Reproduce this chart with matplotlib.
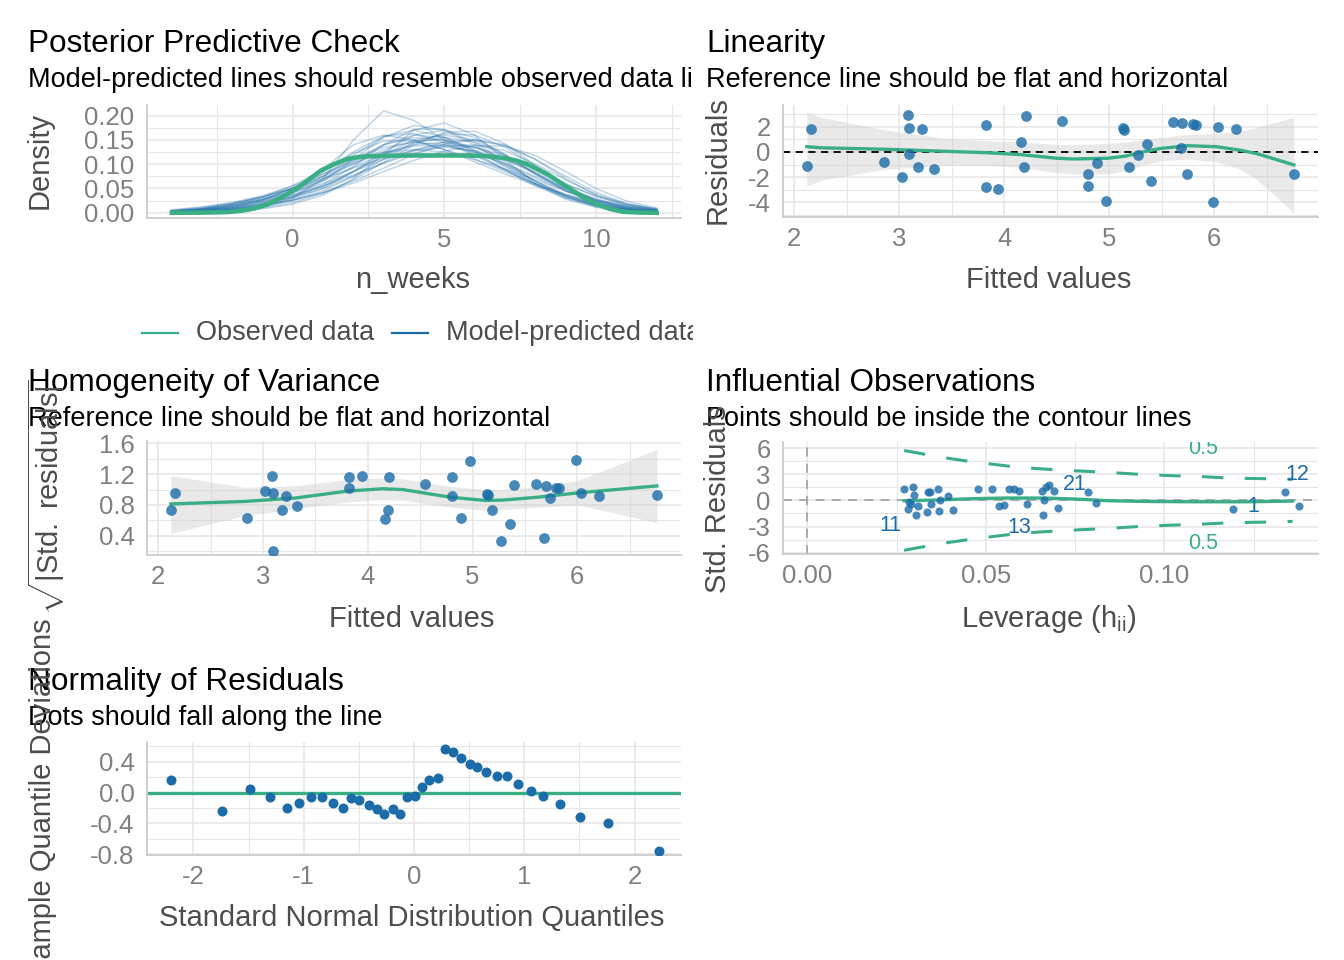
import matplotlib
matplotlib.use("Agg")
import matplotlib.pyplot as plt
from matplotlib.lines import Line2D
from matplotlib.transforms import Bbox, TransformedBbox

# ---- data ------------------------------------------------------------------
# posterior predictive check: density curves on a 1-unit grid of n_weeks
ppc_x = [-4, -3, -2, -1, 0, 1, 2, 3, 4, 5, 6, 7, 8, 9, 10, 11, 12]
ppc_sims = [
    [0.001, 0.002, 0.005, 0.012, 0.030, 0.070, 0.150, 0.210, 0.190, 0.150, 0.120, 0.090, 0.060, 0.035, 0.015, 0.006, 0.002],
    [0.001, 0.003, 0.008, 0.018, 0.035, 0.065, 0.110, 0.155, 0.180, 0.170, 0.140, 0.100, 0.065, 0.035, 0.015, 0.006, 0.002],
    [0.002, 0.005, 0.010, 0.020, 0.035, 0.055, 0.085, 0.120, 0.150, 0.160, 0.150, 0.120, 0.080, 0.045, 0.020, 0.008, 0.003],
    [0.003, 0.007, 0.015, 0.028, 0.045, 0.070, 0.100, 0.130, 0.148, 0.150, 0.135, 0.110, 0.080, 0.050, 0.026, 0.012, 0.005],
    [0.001, 0.002, 0.005, 0.012, 0.025, 0.045, 0.075, 0.110, 0.145, 0.163, 0.160, 0.135, 0.095, 0.055, 0.025, 0.010, 0.004],
    [0.003, 0.008, 0.018, 0.032, 0.050, 0.075, 0.110, 0.140, 0.155, 0.150, 0.128, 0.097, 0.065, 0.038, 0.018, 0.007, 0.002],
    [0.004, 0.009, 0.017, 0.028, 0.042, 0.060, 0.085, 0.110, 0.130, 0.140, 0.135, 0.118, 0.090, 0.060, 0.033, 0.016, 0.007],
    [0.001, 0.002, 0.006, 0.014, 0.028, 0.050, 0.085, 0.125, 0.160, 0.170, 0.155, 0.120, 0.080, 0.045, 0.020, 0.008, 0.002],
    [0.005, 0.011, 0.020, 0.035, 0.055, 0.080, 0.105, 0.125, 0.130, 0.125, 0.110, 0.090, 0.068, 0.045, 0.026, 0.013, 0.006],
    [0.001, 0.003, 0.007, 0.014, 0.026, 0.042, 0.065, 0.092, 0.120, 0.142, 0.150, 0.140, 0.110, 0.070, 0.036, 0.015, 0.005],
    [0.002, 0.006, 0.014, 0.028, 0.050, 0.080, 0.110, 0.135, 0.145, 0.140, 0.125, 0.100, 0.072, 0.045, 0.024, 0.011, 0.004],
    [0.000, 0.001, 0.003, 0.008, 0.018, 0.036, 0.070, 0.120, 0.170, 0.185, 0.160, 0.110, 0.060, 0.028, 0.011, 0.004, 0.001],
    [0.002, 0.005, 0.011, 0.022, 0.040, 0.068, 0.105, 0.140, 0.160, 0.155, 0.130, 0.095, 0.060, 0.032, 0.014, 0.005, 0.002],
    [0.003, 0.007, 0.014, 0.024, 0.037, 0.055, 0.078, 0.102, 0.123, 0.137, 0.140, 0.128, 0.100, 0.068, 0.038, 0.018, 0.008],
    [0.006, 0.012, 0.021, 0.033, 0.050, 0.070, 0.092, 0.112, 0.128, 0.135, 0.128, 0.110, 0.085, 0.058, 0.035, 0.018, 0.008],
    [0.002, 0.005, 0.012, 0.025, 0.050, 0.090, 0.140, 0.160, 0.150, 0.130, 0.110, 0.085, 0.060, 0.037, 0.018, 0.007, 0.002],
    [0.001, 0.003, 0.007, 0.016, 0.032, 0.058, 0.095, 0.140, 0.172, 0.172, 0.145, 0.105, 0.065, 0.033, 0.014, 0.005, 0.002],
    [0.002, 0.005, 0.010, 0.019, 0.032, 0.050, 0.075, 0.103, 0.128, 0.146, 0.150, 0.138, 0.110, 0.075, 0.042, 0.019, 0.007],
    [0.002, 0.005, 0.012, 0.026, 0.050, 0.085, 0.125, 0.158, 0.163, 0.145, 0.118, 0.088, 0.058, 0.033, 0.016, 0.006, 0.002],
    [0.003, 0.007, 0.014, 0.026, 0.043, 0.066, 0.094, 0.121, 0.140, 0.145, 0.135, 0.112, 0.082, 0.052, 0.028, 0.012, 0.005],
    [0.001, 0.003, 0.008, 0.017, 0.032, 0.054, 0.084, 0.117, 0.144, 0.155, 0.146, 0.118, 0.082, 0.048, 0.023, 0.009, 0.003],
    [0.001, 0.004, 0.010, 0.022, 0.043, 0.075, 0.118, 0.157, 0.170, 0.156, 0.125, 0.088, 0.055, 0.030, 0.013, 0.005, 0.001],
    [0.002, 0.004, 0.008, 0.015, 0.026, 0.041, 0.061, 0.085, 0.108, 0.127, 0.138, 0.137, 0.118, 0.085, 0.050, 0.024, 0.010],
    [0.004, 0.009, 0.018, 0.032, 0.051, 0.075, 0.101, 0.124, 0.138, 0.138, 0.125, 0.102, 0.075, 0.049, 0.028, 0.014, 0.006],
    [0.000, 0.001, 0.004, 0.010, 0.021, 0.040, 0.068, 0.104, 0.140, 0.166, 0.168, 0.142, 0.098, 0.055, 0.024, 0.009, 0.003],
    [0.003, 0.008, 0.017, 0.032, 0.056, 0.088, 0.122, 0.148, 0.148, 0.130, 0.105, 0.080, 0.057, 0.037, 0.020, 0.009, 0.003],
]
obs_x = [-3.98, -3.0, -2.16, -1.7, -1.25, -0.85, -0.45, -0.1, 0.23, 0.57, 0.91, 1.36, 1.82, 2.2, 2.5,
         3.2, 4.09, 5.0, 5.8, 6.4, 6.93, 7.35, 7.73, 8.07, 8.41, 8.8, 9.2, 9.6, 10.0, 10.45, 10.9,
         11.4, 12.0]
obs_y = [0.0, 0.0003, 0.0014, 0.004, 0.009, 0.017, 0.029, 0.041, 0.054, 0.070, 0.086, 0.100, 0.111,
         0.115, 0.1165, 0.1175, 0.118, 0.118, 0.118, 0.1165, 0.113, 0.108, 0.100, 0.090, 0.079,
         0.063, 0.047, 0.031, 0.018, 0.008, 0.002, 0.0005, 0.0]

# linearity / homogeneity (same fitted values)
fitted = [2.125, 2.158, 2.851, 3.022, 3.082, 3.098, 3.098, 3.181, 3.220, 3.329,
          3.824, 3.824, 3.946, 4.163, 4.190, 4.206, 4.549, 4.803, 4.803, 4.889,
          4.974, 5.136, 5.146, 5.185, 5.275, 5.357, 5.397, 5.608, 5.687, 5.697,
          5.743, 5.796, 5.829, 5.990, 6.036, 6.208, 6.758]
resid = [-1.11, 1.81, -0.83, -2.00, 2.92, 1.89, -0.14, -1.17, 1.81, -1.33,
         2.17, -2.83, -2.94, 0.81, -1.17, 2.83, 2.50, -1.75, -2.75, -0.89,
         -3.92, 1.89, 1.78, -1.17, -0.28, 0.64, -2.33, 2.39, 0.28, 2.31,
         -1.75, 2.25, 2.17, -4.00, 2.00, 1.83, -1.75]
sqrt_std_resid = [0.733, 0.957, 0.630, 0.979, 1.181, 0.952, 0.208, 0.733, 0.912, 0.787,
                  1.024, 1.159, 1.181, 0.612, 0.733, 1.159, 1.069, 0.912, 1.159, 0.630,
                  1.370, 0.943, 0.935, 0.733, 0.338, 0.549, 1.060, 1.069, 0.374, 1.042,
                  0.890, 1.015, 1.015, 1.383, 0.957, 0.912, 0.926]

lin_sx = [2.12, 2.26, 2.85, 3.41, 3.84, 4.17, 4.50, 4.66, 4.99, 5.16, 5.32, 5.49, 5.75, 6.02, 6.25, 6.41, 6.76]
lin_sy = [0.42, 0.33, 0.22, 0.06, -0.06, -0.22, -0.50, -0.56, -0.50, -0.33, 0.00, 0.28, 0.50, 0.42, 0.14, -0.14, -1.03]
lin_hi = [3.19, 2.75, 1.80, 1.10, 0.90, 0.78, 0.60, 0.58, 0.68, 0.80, 0.97, 1.15, 1.39, 1.47, 1.67, 1.95, 2.78]
lin_lo = [-2.72, -2.25, -1.39, -1.06, -1.05, -1.25, -1.65, -1.75, -1.75, -1.50, -1.05, -0.70, -0.56, -0.78, -1.39, -2.20, -4.86]

hom_sx = [2.12, 2.82, 3.31, 3.81, 4.14, 4.33, 4.79, 5.12, 5.29, 5.62, 6.01, 6.76]
hom_sy = [0.813, 0.845, 0.890, 0.980, 1.010, 1.000, 0.900, 0.858, 0.863, 0.900, 0.957, 1.047]
hom_hi = [1.18, 1.03, 1.05, 1.13, 1.15, 1.14, 1.04, 1.00, 1.00, 1.04, 1.12, 1.52]
hom_lo = [0.43, 0.66, 0.75, 0.84, 0.87, 0.86, 0.77, 0.73, 0.74, 0.77, 0.80, 0.57]

# influential observations
leverage = [0.0272, 0.0296, 0.0300, 0.0338, 0.0343, 0.0366, 0.0395, 0.0371, 0.0347, 0.0291,
            0.0282, 0.0305, 0.0336, 0.0368, 0.0407, 0.0479, 0.0517, 0.0538, 0.0550, 0.0564,
            0.0578, 0.0592, 0.0616, 0.0658, 0.0668, 0.0677, 0.0691, 0.0663, 0.0660, 0.0703,
            0.0785, 0.0809, 0.1193, 0.1337, 0.1376, 0.0285, 0.0310]
std_resid = [1.35, 1.53, 0.57, 0.95, 1.00, 1.26, 0.46, 0.08, -0.38, -0.38,
             -0.95, -1.72, -1.34, -1.23, -1.07, 1.35, 1.35, -0.69, -0.50, 1.35,
             1.35, 1.07, -0.46, 1.07, 1.53, 1.72, 1.07, 0.00, -1.72, -0.84,
             0.95, -0.31, -0.98, 0.93, -0.67, -0.15, -0.60]
inf_sx = [0.0271, 0.0361, 0.0457, 0.0554, 0.0661, 0.0748, 0.0845, 0.0942, 0.1087, 0.1233, 0.1359]
inf_sy = [-0.04, 0.04, 0.19, 0.27, 0.27, 0.16, -0.04, -0.12, -0.16, -0.16, -0.08]
cook_x = [0.0271, 0.0380, 0.0467, 0.0564, 0.0641, 0.0748, 0.0835, 0.0922, 0.1019, 0.1107, 0.1184, 0.1281, 0.1359]
cook_r = [5.72, 4.92, 4.40, 3.93, 3.65, 3.40, 3.23, 3.01, 2.84, 2.72, 2.56, 2.49, 2.41]
inf_labels = ["11", "13", "21", "12", "1"]
inf_label_x = [0.0232, 0.0593, 0.0750, 0.1372, 0.1249]
inf_label_y = [-2.86, -3.06, 1.81, 3.0, -0.67]

# normality of residuals (detrended QQ)
norm_x = [-2.204, -1.742, -1.484, -1.302, -1.154, -1.041, -0.934, -0.830, -0.736, -0.642,
          -0.570, -0.494, -0.412, -0.333, -0.270, -0.192, -0.123, -0.066, 0.009, 0.075,
          0.135, 0.214, 0.280, 0.355, 0.428, 0.506, 0.575, 0.657, 0.751, 0.846,
          0.946, 1.057, 1.173, 1.324, 1.506, 1.758, 2.220]
norm_y = [0.166, -0.237, 0.045, -0.058, -0.197, -0.134, -0.058, -0.058, -0.134, -0.197,
          -0.072, -0.089, -0.157, -0.215, -0.282, -0.215, -0.273, -0.063, -0.045, 0.076,
          0.166, 0.188, 0.568, 0.523, 0.456, 0.376, 0.331, 0.268, 0.210, 0.210,
          0.112, 0.018, -0.045, -0.148, -0.313, -0.394, -0.752]

# ---- style ------------------------------------------------------------------
GREEN = "#3aaf85"
BLUE = "#1b6ca8"
GRID = "#e6e6e6"
TICK = "#808080"
LAB = "#4d4d4d"
W, H = 1344, 960
TITLE_FS, SUB_FS, AXT_FS, TICK_FS = 22.7, 19.5, 21, 18.5

plt.rcParams["font.family"] = ["Liberation Sans", "DejaVu Sans"]
plt.rcParams["mathtext.fontset"] = "custom"
plt.rcParams["mathtext.rm"] = "Liberation Sans"
plt.rcParams["mathtext.it"] = "Liberation Sans:italic"

fig = plt.figure(figsize=(W / 100, H / 100), dpi=100)


def add_ax(l, t, r, b):
    return fig.add_axes([l / W, 1 - b / H, (r - l) / W, (b - t) / H])


def style(ax, xlim, ylim, xmaj, xlab, xmin, ymaj, ylab, ymin):
    ax.set_xlim(xlim)
    ax.set_ylim(ylim)
    ax.set_xticks(xmaj, xlab)
    ax.set_xticks(xmin, minor=True)
    ax.set_yticks(ymaj, ylab)
    ax.set_yticks(ymin, minor=True)
    ax.grid(which="major", color=GRID, lw=1.1)
    ax.grid(which="minor", color=GRID, lw=0.8)
    ax.set_axisbelow(True)
    for s in ["top", "right"]:
        ax.spines[s].set_visible(False)
    for s in ["left", "bottom"]:
        ax.spines[s].set_color("#cccccc")
        ax.spines[s].set_linewidth(1.3)
    ax.tick_params(which="both", length=0, labelsize=TICK_FS, labelcolor=TICK)
    ax.tick_params(axis="x", pad=7)
    ax.tick_params(axis="y", pad=9)


def ftext(x, y, s, **kw):
    return fig.text(x / W, 1 - y / H, s, **kw)


left_clip = TransformedBbox(Bbox.from_extents(0, 0, 693 / W, 1), fig.transFigure)


def header(y, x, title, sub, clip=False):
    ftext(x, y, title, fontsize=TITLE_FS, color="black", va="baseline")
    t = ftext(x, y + 35, sub, fontsize=SUB_FS, color="black", va="baseline")
    if clip:
        t.set_clip_box(left_clip)
        t.set_clip_on(True)


# ---- Posterior predictive check -----------------------------------------------
ax1 = add_ax(147, 105, 681, 218)
for sim in ppc_sims:
    ax1.plot(ppc_x, sim, color=BLUE, lw=1.1, alpha=0.28)
ax1.plot(obs_x, obs_y, color=GREEN, lw=3.3)
style(ax1, (-4.8, 12.8), (-0.0108, 0.222),
      [0, 5, 10], ["0", "5", "10"], [-2.5, 2.5, 7.5, 12.5],
      [0, 0.05, 0.10, 0.15, 0.20], ["0.00", "0.05", "0.10", "0.15", "0.20"],
      [0.025, 0.075, 0.125, 0.175])
header(52, 28, "Posterior Predictive Check",
       "Model-predicted lines should resemble observed data lines", clip=True)
ftext(413, 280, "n_weeks", fontsize=AXT_FS, color=LAB, ha="center", va="center")
ftext(40, 160, "Density", fontsize=AXT_FS, color=LAB, ha="center", va="center", rotation=90)
fig.add_artist(Line2D([142 / W, 178 / W], [1 - 333 / H] * 2, color=GREEN, lw=1.6))
fig.add_artist(Line2D([392 / W, 428 / W], [1 - 333 / H] * 2, color=BLUE, lw=1.6))
ftext(196, 333, "Observed data", fontsize=SUB_FS, color=LAB, va="center")
leg = ftext(446, 333, "Model-predicted data", fontsize=SUB_FS, color=LAB, va="center")
leg.set_clip_box(left_clip)
leg.set_clip_on(True)

# ---- Linearity ----------------------------------------------------------------
ax2 = add_ax(783, 105, 1318, 217)
ax2.fill_between(lin_sx, lin_lo, lin_hi, color="#cfcfcf", alpha=0.45, lw=0)
ax2.axhline(0, color="black", lw=1.3, ls=(0, (4, 3)))
ax2.plot(lin_sx, lin_sy, color=GREEN, lw=2.4)
ax2.scatter(fitted, resid, s=60, color=BLUE, alpha=0.8, lw=0, zorder=3)
style(ax2, (1.893, 6.99), (-5.18, 3.74),
      [2, 3, 4, 5, 6], ["2", "3", "4", "5", "6"], [2.5, 3.5, 4.5, 5.5, 6.5],
      [-4, -2, 0, 2], ["-4", "-2", "0", "2"], [-5, -3, -1, 1, 3])
header(52, 706, "Linearity", "Reference line should be flat and horizontal")
ftext(1049, 280, "Fitted values", fontsize=AXT_FS, color=LAB, ha="center", va="center")
ftext(718, 160, "Residuals", fontsize=AXT_FS, color=LAB, ha="center", va="center", rotation=90)

# ---- Homogeneity of variance --------------------------------------------------
ax3 = add_ax(147, 441, 681, 555)
ax3.fill_between(hom_sx, hom_lo, hom_hi, color="#cfcfcf", alpha=0.45, lw=0)
ax3.plot(hom_sx, hom_sy, color=GREEN, lw=2.4)
ax3.scatter(fitted, sqrt_std_resid, s=60, color=BLUE, alpha=0.8, lw=0, zorder=3)
style(ax3, (1.893, 6.99), (0.15, 1.63),
      [2, 3, 4, 5, 6], ["2", "3", "4", "5", "6"], [2.5, 3.5, 4.5, 5.5, 6.5],
      [0.4, 0.8, 1.2, 1.6], ["0.4", "0.8", "1.2", "1.6"], [0.2, 0.6, 1.0, 1.4])
header(391, 28, "Homogeneity of Variance", "Reference line should be flat and horizontal")
ftext(412, 619, "Fitted values", fontsize=AXT_FS, color=LAB, ha="center", va="center")
ftext(46, 497, r"$\sqrt{|\mathrm{Std.\ residuals}|}$", fontsize=AXT_FS, color=LAB,
      ha="center", va="center", rotation=90)

# ---- Influential observations -------------------------------------------------
ax4 = add_ax(783, 442, 1318, 554)
ax4.axhline(0, color="#a6a6a6", lw=1.3, ls=(0, (5, 4)))
ax4.axvline(0, color="#a6a6a6", lw=1.3, ls=(0, (5, 4)))
ax4.plot(cook_x, cook_r, color=GREEN, lw=2.2, ls=(0, (7, 7)))
ax4.plot(cook_x, [-r for r in cook_r], color=GREEN, lw=2.2, ls=(0, (7, 7)))
ax4.plot(inf_sx, inf_sy, color=GREEN, lw=2.4)
ax4.scatter(leverage, std_resid, s=34, color=BLUE, alpha=0.8, lw=0, zorder=3)
for lab, lx, ly in zip(inf_labels, inf_label_x, inf_label_y):
    ax4.text(lx, ly, lab, color=BLUE, fontsize=15.5, ha="center", va="center", zorder=4)
ax4.text(0.1109, 5.95, "0.5", color=GREEN, fontsize=15.5, ha="center", va="center", clip_on=True)
ax4.text(0.1109, -4.95, "0.5", color=GREEN, fontsize=15.5, ha="center", va="center", clip_on=True)
style(ax4, (-0.0068, 0.143), (-6.15, 6.7),
      [0, 0.05, 0.10], ["0.00", "0.05", "0.10"], [0.025, 0.075, 0.125],
      [-6, -3, 0, 3, 6], ["-6", "-3", "0", "3", "6"], [-4.5, -1.5, 1.5, 4.5])
header(391, 706, "Influential Observations", "Points should be inside the contour lines")
ftext(1049, 619, r"Leverage (h$_{\mathrm{ii}}$)", fontsize=AXT_FS, color=LAB, ha="center", va="center")
ftext(718, 499, "Std. Residuals", fontsize=AXT_FS, color=LAB, ha="center", va="center", rotation=90)

# ---- Normality of residuals ---------------------------------------------------
ax5 = add_ax(147, 742, 681, 855)
ax5.axhline(0, color=GREEN, lw=2.4)
ax5.scatter(norm_x, norm_y, s=52, color=BLUE, lw=0, zorder=3)
style(ax5, (-2.42, 2.42), (-0.81, 0.658),
      [-2, -1, 0, 1, 2], ["-2", "-1", "0", "1", "2"], [-1.5, -0.5, 0.5, 1.5],
      [-0.8, -0.4, 0.0, 0.4], ["-0.8", "-0.4", "0.0", "0.4"], [-0.6, -0.2, 0.2, 0.6])
header(690, 28, "Normality of Residuals", "Dots should fall along the line")
ftext(412, 918, "Standard Normal Distribution Quantiles", fontsize=AXT_FS, color=LAB,
      ha="center", va="center")
ftext(43, 798, "Sample Quantile Deviations", fontsize=AXT_FS, color=LAB, ha="center",
      va="center", rotation=90)

fig.savefig("out.png", dpi=100)
